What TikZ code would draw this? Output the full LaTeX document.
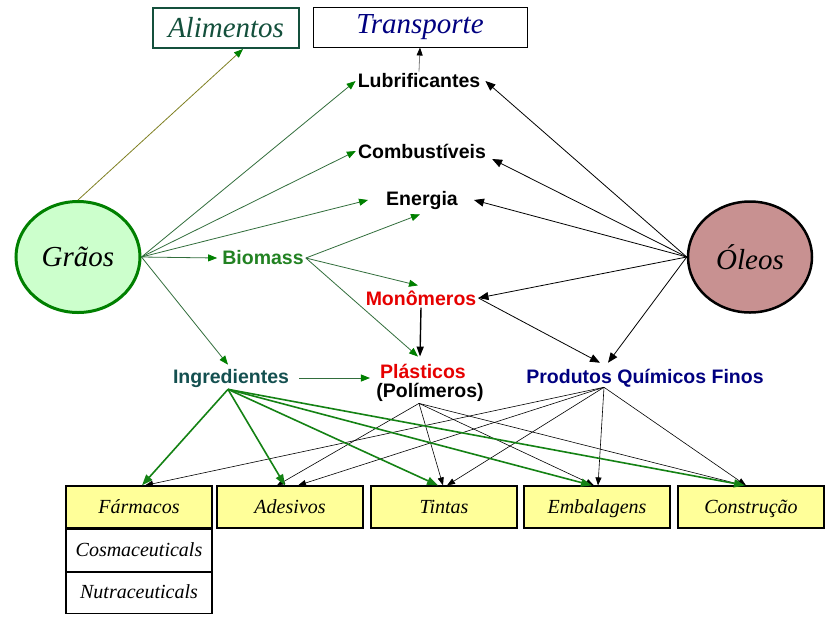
\documentclass[tikz,border=0pt]{standalone}
\usepackage{fontspec}
\setmainfont{Liberation Serif}
\setsansfont{Liberation Sans}
\usetikzlibrary{arrows.meta,positioning,shapes.geometric}

\definecolor{graofill}{RGB}{204,255,204}
\definecolor{graogreen}{RGB}{0,128,0}
\definecolor{graoline}{RGB}{50,110,60}
\definecolor{oleofill}{RGB}{200,145,145}
\definecolor{alimgreen}{RGB}{20,80,60}
\definecolor{navyblue}{RGB}{0,0,128}
\definecolor{biogreen}{RGB}{34,130,34}
\definecolor{monred}{RGB}{230,0,0}
\definecolor{ingteal}{RGB}{20,80,80}
\definecolor{inggreen}{RGB}{20,130,20}
\definecolor{boxyellow}{RGB}{255,255,153}

\tikzset{
  lbl/.style={font=\sffamily\bfseries\fontsize{19.5}{21}\selectfont, inner sep=2pt},
  scriptlbl/.style={font=\itshape\fontsize{29}{31}\selectfont},
  ybox/.style={draw, line width=1.2pt, fill=boxyellow, minimum width=146pt,
    minimum height=42pt, inner sep=0pt, text height=16pt, text depth=4pt,
    font=\itshape\fontsize{20}{22}\selectfont},
  wbox/.style={ybox, fill=white},
  thinG/.style={draw=graoline, line width=0.8pt, -{Triangle[length=9pt,width=7pt,color=graogreen]}},
  ingG/.style={draw=inggreen, line width=1.6pt, -{Triangle[length=11pt,width=8pt]}},
  blkO/.style={draw=black, line width=0.8pt, -{Triangle[length=10pt,width=8pt]}},
  blk/.style={draw=black, line width=0.6pt, -{Triangle[length=8pt,width=6pt]}}
}

\begin{document}
\begin{tikzpicture}[x=1pt,y=-1pt]
  \useasboundingbox[fill=white] (0,0) rectangle (833,625);

  % sources
  \node[ellipse, draw=graogreen, line width=3pt, fill=graofill, minimum width=124pt,
    minimum height=111pt, scriptlbl] (graos) at (78,257) {Grãos};
  \node[ellipse, draw=black, line width=2.5pt, fill=oleofill, minimum width=124pt,
    minimum height=111pt, scriptlbl] (oleos) at (750,257) {Óleos};

  % top boxes
  \node[draw=alimgreen, line width=2pt, minimum width=146pt, minimum height=40pt,
    scriptlbl, text=alimgreen] (alim) at (226,28) {Alimentos};
  \node[draw, line width=1pt, minimum width=214pt, minimum height=40pt,
    scriptlbl, text=navyblue] (transp) at (420,27) {Transporte};

  % middle labels
  \node[lbl] (lubrif) at (419,81) {Lubrificantes};
  \node[lbl] (combust) at (422,151) {Combustíveis};
  \node[lbl] (energia) at (422,200) {Energia};
  \node[lbl, text=biogreen] (biomass) at (263,258) {Biomass};
  \node[lbl, text=monred] (monom) at (421,298) {Monômeros};
  \node[lbl, text=monred] (plast) at (423,371) {Plásticos};
  \node[lbl] (polim) at (430,392) {(Polímeros)};
  \node[lbl, text=ingteal] (ingred) at (231,378) {Ingredientes};
  \node[lbl, text=navyblue] (pqf) at (645,378) {Produtos Químicos Finos};

  % bottom boxes
  \node[ybox] (farm) at (139,507) {Fármacos};
  \node[wbox, below=0pt of farm] (cosm) {Cosmaceuticals};
  \node[wbox, below=0pt of cosm, minimum height=41pt] (nutra) {Nutraceuticals};
  \node[ybox] (ades) at (290,507) {Adesivos};
  \node[ybox] (tintas) at (444,507) {Tintas};
  \node[ybox] (embal) at (597,507) {Embalagens};
  \node[ybox] (constr) at (751,507) {Construção};

  % from Grãos
  \draw[thinG, draw=olive!70!graoline] (graos.north) -- ([xshift=17pt]alim.south);
  \draw[thinG] (graos.east) -- (lubrif.west);
  \draw[thinG] (graos.east) -- (combust.west);
  \draw[thinG] (graos.east) -- ([xshift=-16pt]energia.west);
  \draw[thinG] (graos.east) -- ([xshift=-3pt]biomass.west);
  \draw[thinG] (graos.east) -- ([xshift=-3pt,yshift=2pt]ingred.north);

  % from Biomass
  \draw[thinG] (biomass.east) -- ([xshift=-2pt,yshift=-3pt]energia.south);
  \draw[thinG] (biomass.east) -- ([xshift=-3pt,yshift=3pt]monom.north);
  \draw[thinG] (biomass.east) -- ([xshift=-5pt,yshift=5pt]plast.north);
  \draw[black, line width=1.4pt, -{Triangle[length=10pt,width=7pt]}] (monom.south) -- ([xshift=-3pt,yshift=5pt]plast.north);
  \draw[thinG] ([xshift=8pt]ingred.east) -- ([xshift=-8pt]plast.west |- ingred.east);
  \draw[draw=gray, line width=0.8pt, -{Triangle[length=8pt,width=6pt,color=black]}] (lubrif.north) -- (transp.south);

  % from Óleos
  \draw[blkO] (oleos.west) -- ([xshift=3pt]lubrif.east);
  \draw[blkO] (oleos.west) -- ([xshift=4pt,yshift=-8pt]combust.east);
  \draw[blkO] (oleos.west) -- ([xshift=14pt]energia.east);
  \draw[blkO] (oleos.west) -- (monom.east);
  \draw[blkO] (oleos.west) -- ([xshift=-37pt,yshift=4pt]pqf.north);
  \draw[blkO] (monom.east) -- ([xshift=-45pt,yshift=4pt]pqf.north);

  % to the applications
  \coordinate (pqfout) at ([xshift=-41pt,yshift=2pt]pqf.south);
  \coordinate (polout) at ([xshift=-11pt]polim.south);
  \draw[blk] (pqfout) -- ([xshift=6pt]farm.north);
  \draw[blk] (pqfout) -- ([xshift=8pt]ades.north);
  \draw[blk] (pqfout) -- ([xshift=3pt]tintas.north);
  \draw[blk] (pqfout) -- ([xshift=1pt]embal.north);
  \draw[blk] (pqfout) -- ([xshift=-5pt]constr.north);
  \draw[blk] (polout) -- ([xshift=-13pt]ades.north);
  \draw[blk] (polout) -- ([xshift=-1pt]tintas.north);
  \draw[blk] (polout) -- ([xshift=-3pt]embal.north);
  \draw[blk] (polout) -- ([xshift=-7pt]constr.north);
  \foreach \dest/\dx in {farm/3, ades/-5, tintas/-6, embal/-5, constr/-6}
    \draw[ingG] ([xshift=-3pt]ingred.south) -- ([xshift=\dx pt]\dest.north);
\end{tikzpicture}
\end{document}
